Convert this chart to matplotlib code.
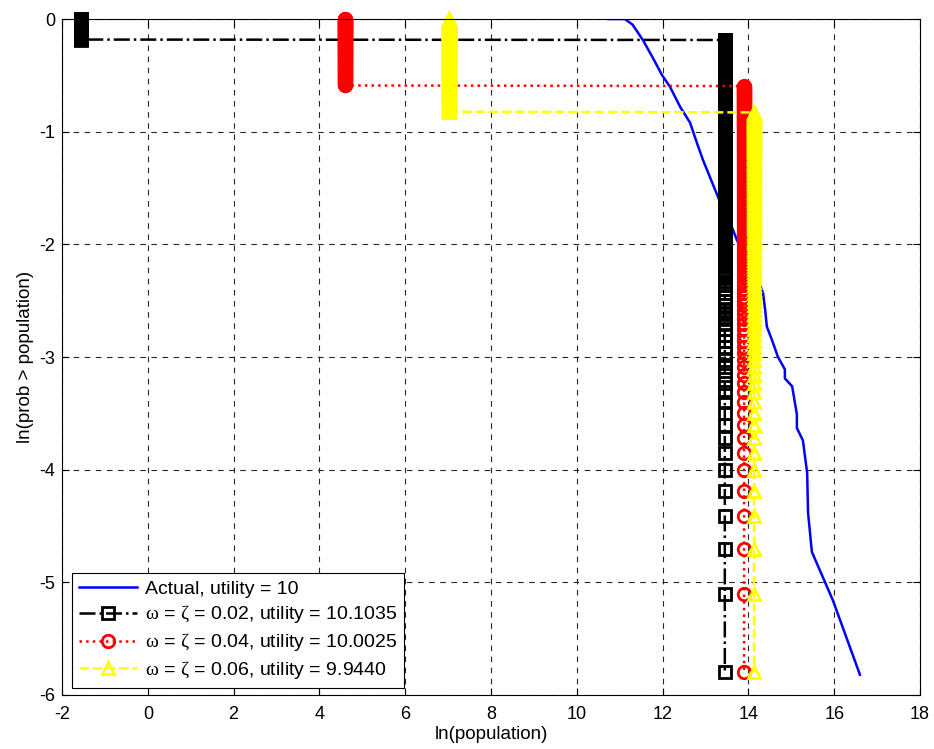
import numpy as np
import matplotlib
matplotlib.use('Agg')
import matplotlib.pyplot as plt

plt.rcParams['font.family'] = ['Liberation Sans', 'DejaVu Sans']
plt.rcParams['mathtext.fontset'] = 'custom'
plt.rcParams['mathtext.it'] = 'Liberation Serif'
plt.rcParams['mathtext.rm'] = 'Liberation Serif'
plt.rcParams['axes.unicode_minus'] = False

# number of cities in each distribution
n_cities = 330

# model runs: each run puts some cities at a low population, the rest at a high one
model_labels = [r'$\omega$ = $\zeta$ = 0.02, utility = 10.1035',
                r'$\omega$ = $\zeta$ = 0.04, utility = 10.0025',
                r'$\omega$ = $\zeta$ = 0.06, utility = 9.9440']
low_pop = [-1.55, 4.6, 7.02]
low_count = [56, 148, 186]
high_pop = [13.45, 13.9, 14.13]

# actual distribution
actual_x = [10.73, 11.12, 11.3, 11.54, 11.78, 11.99, 12.17, 12.41, 12.64, 12.80,
            12.94, 13.10, 13.26, 13.45, 13.64, 13.73, 14.0, 14.2, 14.34, 14.39,
            14.43, 14.55, 14.69, 14.85, 14.85, 15.02, 15.13, 15.13, 15.27, 15.37,
            15.39, 15.48, 15.97, 16.60]
actual_y = [0.0, 0.0, -0.05, -0.186, -0.35, -0.5, -0.6, -0.78, -0.92, -1.10,
            -1.25, -1.40, -1.55, -1.72, -1.87, -1.96, -2.15, -2.30, -2.43, -2.58,
            -2.73, -2.85, -3.0, -3.11, -3.19, -3.26, -3.51, -3.63, -3.74, -4.03,
            -4.38, -4.73, -5.16, -5.82]

colors = ['k', 'r', (1, 1, 0)]
styles = ['-.', ':', '--']
markers = ['s', 'o', '^']

fig = plt.figure(figsize=(9.34, 7.49), dpi=100)
ax = fig.add_axes([0.0664, 0.0721, 0.9186, 0.9025])

ax.plot(actual_x, actual_y, color=(0, 0, 1), linewidth=1.8, label='Actual, utility = 10')

# ln(prob > population) from the rank of each sorted city
rank_y = np.log(np.arange(n_cities, 0, -1) / n_cities)
for lo, cnt, hi, c, ls, m, lab in zip(low_pop, low_count, high_pop, colors, styles, markers, model_labels):
    pops = np.repeat([lo, hi], [cnt, n_cities - cnt])
    ax.plot(pops, rank_y, color=c, linestyle=ls, linewidth=1.8, marker=m,
            markersize=9, markerfacecolor='none', markeredgewidth=2,
            label=lab, clip_on=False)

ax.set_xlim(-2, 18)
ax.set_ylim(-6, 0)
ax.set_xticks(np.arange(-2, 19, 2))
ax.set_yticks(np.arange(-6, 1, 1))
ax.tick_params(direction='in', top=True, right=True, length=5, labelsize=13)
ax.tick_params(axis='x', pad=8)
ax.tick_params(axis='y', pad=5)
ax.grid(True, color='0.15', linestyle=(0, (5, 5)), linewidth=0.8)
ax.set_axisbelow(True)
for s in ax.spines.values():
    s.set_linewidth(0.8)

ax.set_xlabel('ln(population)', fontsize=13.5, labelpad=2)
ax.set_ylabel('ln(prob > population)', fontsize=13.5, labelpad=4)

leg = ax.legend(loc='lower left', bbox_to_anchor=(0.0117, 0.0104), borderaxespad=0,
                fontsize=14, fancybox=False, edgecolor='k', framealpha=1,
                handlelength=3.0, handletextpad=0.4, labelspacing=0.3,
                borderpad=0.35)
leg.get_frame().set_linewidth(0.8)

plt.savefig('out.png', dpi=100)
